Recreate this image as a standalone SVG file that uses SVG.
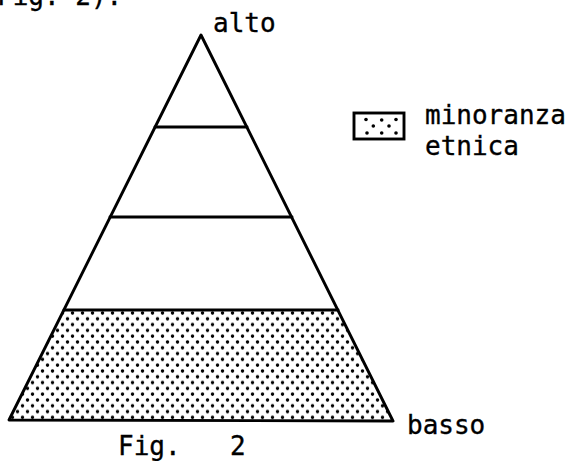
<svg xmlns="http://www.w3.org/2000/svg" width="572" height="461" viewBox="0 0 572 461">
  <style>
    .t { font-family: "DejaVu Sans Mono", "Liberation Mono", monospace; font-size: 26px; fill: #000; stroke: #000; stroke-width: 0.35; }
    .ln { stroke: #000; stroke-width: 2.9; fill: none; stroke-linecap: round; stroke-linejoin: round; }
  </style>
  <defs>
    <pattern id="dots" patternUnits="userSpaceOnUse" x="0" y="310" width="10" height="11.6">
      <circle cx="2.5" cy="3" r="1.75" fill="#000"/>
      <circle cx="7.5" cy="8.8" r="1.75" fill="#000"/>
    </pattern>
  </defs>
  <rect width="572" height="461" fill="#fff"/>

  <text class="t" x="-3" y="5">Fig. 2).</text>

  <g id="pyramid">
    <polygon points="64,310 338,310 393,421 9,420" fill="url(#dots)"/>
    <polygon class="ln" points="201,35 393,421 9,420"/>
    <line class="ln" x1="155" y1="127" x2="247" y2="127"/>
    <line class="ln" x1="110" y1="217" x2="292" y2="217"/>
    <line class="ln" x1="64" y1="310" x2="338" y2="310"/>
  </g>

  <g id="labels">
    <text class="t" x="213" y="32">alto</text>
    <text class="t" x="407" y="434">basso</text>
    <text class="t" x="118" y="455">Fig.</text>
    <text class="t" x="230" y="455">2</text>
  </g>

  <g id="legend">
    <rect x="354" y="113" width="50" height="26" fill="#fff" stroke="#000" stroke-width="2.9"/>
    <g fill="#000">
      <circle cx="366" cy="119.5" r="1.8"/>
      <circle cx="381.7" cy="120" r="1.8"/>
      <circle cx="396" cy="119.5" r="1.8"/>
      <circle cx="373.3" cy="126" r="1.8"/>
      <circle cx="389" cy="126" r="1.8"/>
      <circle cx="367" cy="133" r="1.8"/>
      <circle cx="381.7" cy="133" r="1.8"/>
      <circle cx="396" cy="133" r="1.8"/>
    </g>
    <text class="t" x="425" y="124">minoranza</text>
    <text class="t" x="425" y="155">etnica</text>
  </g>
</svg>
